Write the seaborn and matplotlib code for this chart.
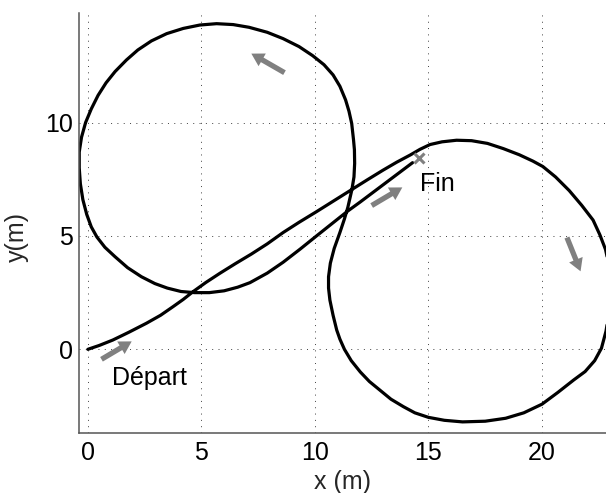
import pandas as pd
import matplotlib
matplotlib.use('Agg')
import matplotlib.pyplot as plt
import seaborn as sns

# Trajectory (x, y in metres), in driving order:
# start line, right loop (clockwise), left loop (anticlockwise), return line
path_x = [0.0, 0.5, 1.1, 1.8, 2.58, 3.2, 3.75, 4.2, 4.63, 5.2, 5.81, 6.5, 7.2,
          7.9, 8.6, 9.3, 10.07, 10.85, 11.63, 12.3, 13.0, 13.6, 14.2, 14.63,
          15.07, 15.6, 16.24, 16.9, 17.6, 18.3, 19.0, 19.6, 20.04, 20.6, 21.2,
          21.75, 22.25, 22.55, 22.8, 22.95, 23.02, 23.02, 22.95, 22.82, 22.62,
          22.32, 21.9, 21.4, 20.7, 20.0, 19.2, 18.4, 17.5, 16.5, 15.7, 15.0,
          14.4, 13.9, 13.35, 12.86, 12.4, 12.0, 11.6, 11.3, 11.1, 10.96, 10.8,
          10.66, 10.6, 10.6, 10.68, 10.85, 11.1, 11.3, 11.45, 11.63, 11.72,
          11.75, 11.74, 11.7, 11.62, 11.5, 11.35, 11.1, 10.8, 10.4, 9.9, 9.3,
          8.6, 7.9, 7.1, 6.4, 5.67, 4.93, 4.2, 3.47, 2.8, 2.2, 1.7, 1.2, 0.8,
          0.45, 0.15, -0.1, -0.28, -0.38, -0.38, -0.33, -0.22, -0.05, 0.15, 0.4,
          0.75, 1.19, 1.75, 2.36, 2.95, 3.5, 4.1, 4.7, 5.35, 6.0, 6.6, 7.14, 7.9,
          8.6, 9.35, 10.07, 10.8, 11.45, 12.0, 12.56, 13.1, 13.7, 14.3]
path_y = [0.0, 0.17, 0.41, 0.75, 1.15, 1.5, 1.88, 2.2, 2.54, 2.95, 3.35, 3.78, 4.2,
          4.65, 5.15, 5.6, 6.07, 6.56, 7.05, 7.47, 7.9, 8.25, 8.57, 8.82,
          9.03, 9.15, 9.22, 9.2, 9.08, 8.85, 8.58, 8.3, 8.06, 7.6, 7.0,
          6.35, 5.7, 5.05, 4.4, 3.7, 3.0, 2.3, 1.6, 0.8, 0.05,
          -0.5, -0.98, -1.35, -1.9, -2.42, -2.8, -3.04, -3.17, -3.2, -3.13, -3.0,
          -2.8, -2.53, -2.2, -1.8, -1.42, -1.0, -0.5, 0.0, 0.45, 0.85, 1.5,
          2.17, 2.7, 3.2, 3.8, 4.45, 5.15, 5.75, 6.26, 7.05, 7.6,
          8.2, 8.8, 9.24, 9.96, 10.5, 11.0, 11.6, 12.1, 12.55, 12.95, 13.35,
          13.7, 13.98, 14.2, 14.32, 14.36, 14.3, 14.15, 13.92, 13.6, 13.2, 12.76, 12.25, 11.75,
          11.2, 10.6, 10.0, 9.35, 8.7, 8.0, 7.3, 6.6, 5.95, 5.4, 4.95,
          4.5, 4.09, 3.6, 3.2, 2.9, 2.7, 2.55, 2.5, 2.5, 2.58, 2.74, 2.94, 3.36,
          3.84, 4.42, 5.0, 5.58, 6.1, 6.5, 6.92, 7.32, 7.77, 8.23]

# Direction arrows: (tail x, tail y, tip x, tip y)
arrows = [(0.6, -0.44, 1.93, 0.35),
          (8.66, 12.2, 7.2, 13.04),
          (21.1, 4.93, 21.7, 3.44),
          (12.5, 6.34, 13.85, 7.14)]

end_x, end_y = 14.6, 8.45
labels = ['Départ', 'Fin']
label_x = [1.08, 14.63]
label_y = [-1.57, 7.0]

x_ticks = [0, 5, 10, 15, 20]
y_ticks = [0, 5, 10]

sns.set_style('white')
plt.rcParams['font.family'] = ['Liberation Sans', 'DejaVu Sans']
fs = 18

df = pd.DataFrame({'x': path_x, 'y': path_y})

fig = plt.figure(figsize=(6.06, 4.93), dpi=100)
ax = fig.add_axes([0.130, 0.1217, 0.870, 0.8519])

sns.lineplot(data=df, x='x', y='y', sort=False, estimator=None,
             color='black', linewidth=2.3, ax=ax)

for tx, ty, hx, hy in arrows:
    ax.annotate('', xy=(hx, hy), xytext=(tx, ty),
                arrowprops=dict(facecolor='#808080', edgecolor='none',
                                width=3.8, headwidth=10.5, headlength=9, shrink=0))

ax.plot(end_x, end_y, marker='x', color='#808080', markersize=7, mew=2.2)

for t, lx, ly in zip(labels, label_x, label_y):
    ax.text(lx, ly, t, fontsize=fs, ha='left', va='baseline', color='black')

ax.set_xlim(-0.4, 22.82)
ax.set_ylim(-3.69, 14.83)
ax.set_xticks(x_ticks)
ax.set_yticks(y_ticks)

ax.grid(True, color='#404040', linestyle=(0, (1, 5.5)), linewidth=0.7)
for s in ['top', 'right']:
    ax.spines[s].set_visible(False)
for s in ['left', 'bottom']:
    ax.spines[s].set_color('#555555')
    ax.spines[s].set_linewidth(1.1)

ax.tick_params(axis='both', direction='in', length=4, width=0.8,
               colors='#404040', labelcolor='black', labelsize=fs)
ax.tick_params(axis='x', pad=6)
ax.tick_params(axis='y', pad=4)

ax.set_xlabel('x (m)', fontsize=fs, labelpad=3)
ax.set_ylabel('y(m)', fontsize=fs)
ax.yaxis.set_label_coords(-0.095, 0.467)

fig.savefig('out.png', dpi=100)
